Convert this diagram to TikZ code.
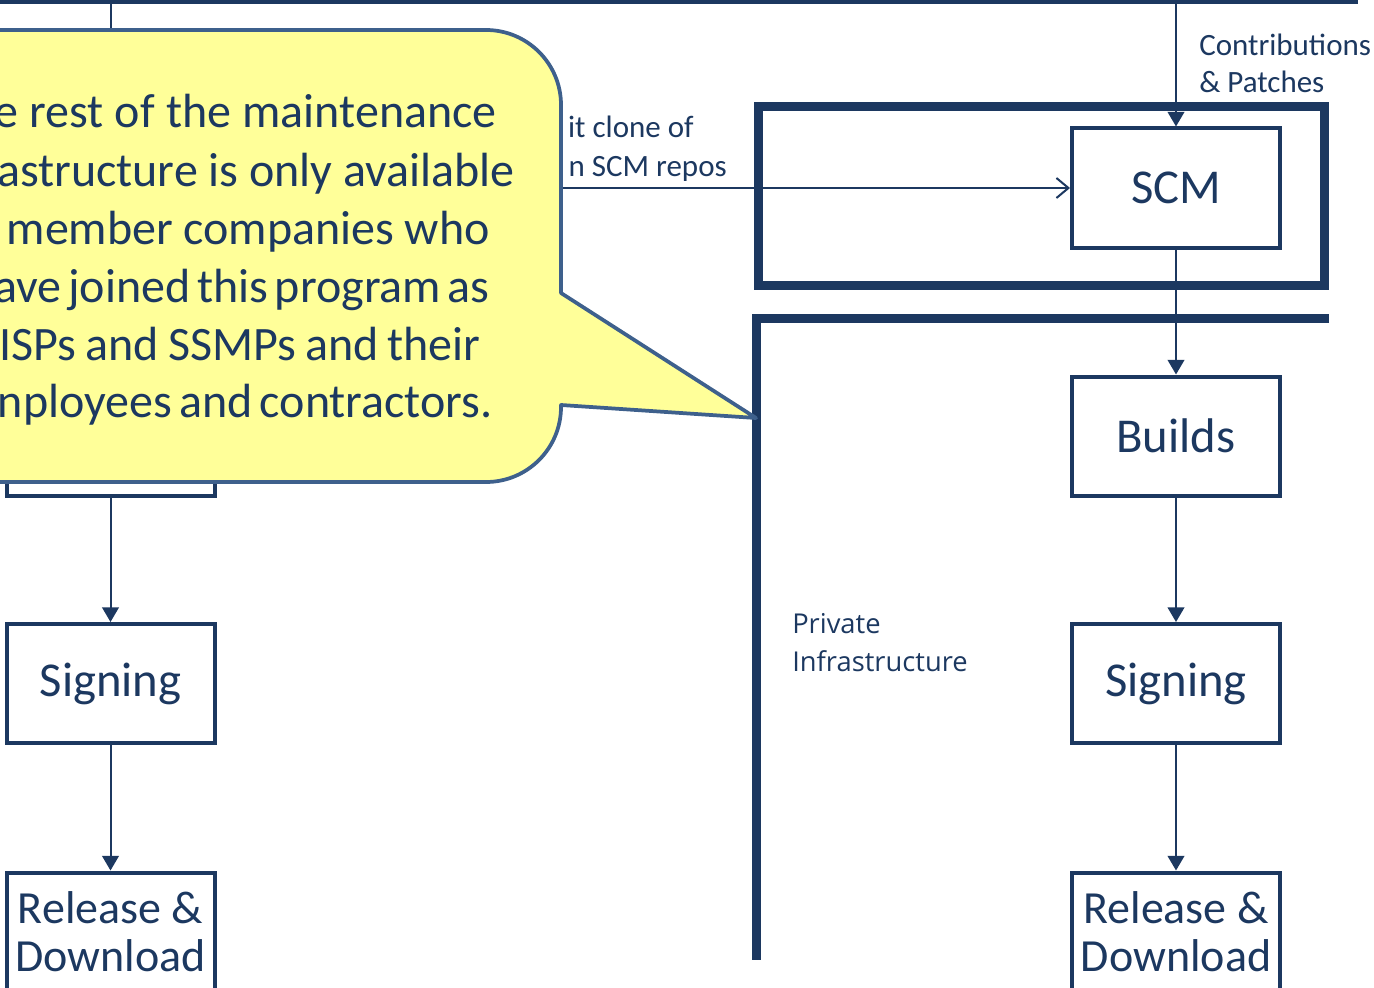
\documentclass[tikz,border=0pt]{standalone}
\usepackage{fontspec}
\setmainfont{Carlito}
\newfontfamily\osans{Open Sans}
\usetikzlibrary{arrows.meta}
\definecolor{navy}{RGB}{28,56,96}
\definecolor{calloutfill}{RGB}{255,255,153}
\definecolor{calloutedge}{RGB}{62,96,140}
\newcommand{\calloutfont}{\fontsize{36}{43}\selectfont}
\newcommand{\csp}[1]{\spaceskip=#1em plus 0.02em\relax}
\begin{document}
\begin{tikzpicture}[x=0.75pt,y=-0.75pt,
  stage/.style={draw=navy, line width=3pt, minimum width=156pt, minimum height=89.25pt,
    inner sep=0pt, text=navy, font=\fontsize{36.5}{38}\selectfont, align=center},
  relstage/.style={stage, font=\fontsize{34.5}{36}\selectfont},
  flow/.style={draw=navy, line width=1.5pt, -{Triangle[length=11pt,width=12.5pt]}},
  openflow/.style={draw=navy, line width=1.5pt, -{Straight Barb[length=9pt,width=15pt,line width=1.5pt]}},
  frame/.style={draw=navy, line width=6.75pt},
  smalllabel/.style={text=navy, font=\fontsize{23.25}{28.5}\selectfont, inner sep=0pt},
  privlabel/.style={text=navy, font=\osans\fontsize{20.5}{28.5}\selectfont, inner sep=0pt},
  calloutline/.style={text=navy, font=\calloutfont, inner sep=0pt, anchor=base east},
  callout/.style={fill=calloutfill, draw=calloutedge, line width=2.8pt, line join=round}
]
\useasboundingbox (0,0) rectangle (1374,988);

% top edge of the outer frame
\coordinate (topL) at (0,-0.5);
\coordinate (topR) at (1358,-0.5);
\draw[frame] (topL) -- (topR);

% public SCM frame and private infrastructure frame
\draw[frame] (758,107) rectangle (1324,285);
\draw[frame] (1329,318) -- (756,318) -- (756,960);

% right column
\node[stage] (scm) at (1176,188) {SCM};
\node[stage] (rbuild) at (1176,436) {Builds};
\node[stage] (rsign) at (1176,683.5) {Signing};
\node[relstage] (rrel) at (1176,932) {Release \&\\Download};

% left column
\node[stage] (lbuild) at (110.5,436) {};
\node[stage] (lsign) at (110.5,683.5) {Signing};
\node[relstage] (lrel) at (110.5,932) {Release \&\\Download};

% connectors
\coordinate (rtop) at (1176,0);
\coordinate (ltop) at (110.5,0);
\coordinate (gitstart) at (520,188);
\draw[flow] (rtop) -- (scm.north);
\draw[flow] (scm) -- (rbuild);
\draw[flow] (rbuild) -- (rsign);
\draw[flow] (rsign) -- (rrel);
\draw[flow] (ltop) -- (lbuild.north);
\draw[flow] (lbuild) -- (lsign);
\draw[flow] (lsign) -- (lrel);
\draw[openflow] (gitstart) -- (scm.west);

% labels
\node[smalllabel, anchor=base west] (contrib) at (1199,56) {Contributions};
\node[smalllabel, anchor=base west] (patches) at (1199,93) {\& Patches};
\node[smalllabel, anchor=base east] (git1) at (694,138) {it clone of};
\node[smalllabel, anchor=base east] (git2) at (727,177) {n SCM repos};
\node[privlabel, anchor=base west] (priv1) at (792,633) {Private};
\node[privlabel, anchor=base west] (priv2) at (792,671) {Infrastructure};

% callout
\draw[callout] (-60,30) -- (486,30) .. controls (527.4,30) and (561,63.6) .. (561,105)
  -- (561,293) -- (756,418) -- (561,405) -- (561,407)
  .. controls (561,448.4) and (527.4,482) .. (486,482) -- (-60,482) -- cycle;
\node[calloutline] (c1) at (497,128) {\csp{0.235}e rest of the maintenance};
\node[calloutline] (c2) at (515,186) {\csp{0.225}astructure is only available};
\node[calloutline] (c3) at (490,244) {\csp{0.22}member companies who};
\node[calloutline] (c4) at (490,302) {\csp{0.14}ave joined this program as};
\node[calloutline] (c5) at (481,360) {\csp{0.19}ISPs and SSMPs and their};
\node[calloutline] (c6) at (493,417) {\csp{0.15}nployees and contractors.};
\end{tikzpicture}
\end{document}
